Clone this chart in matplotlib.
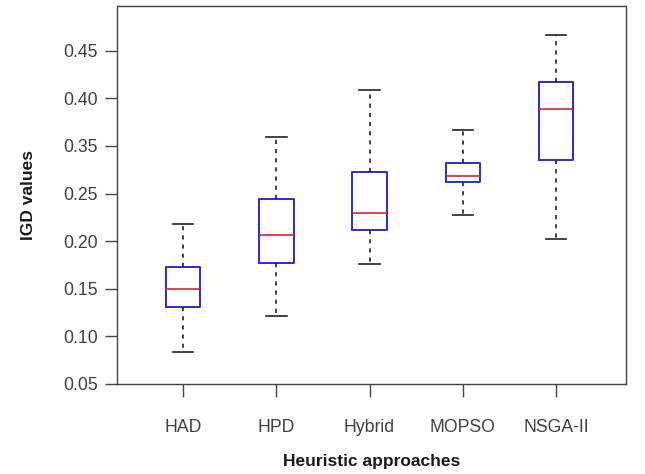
import matplotlib
matplotlib.use('Agg')
import matplotlib.pyplot as plt

plt.rcParams['font.family'] = ['Liberation Sans', 'DejaVu Sans']

# datos (cuartiles y bigotes)
metodos = ['HAD', 'HPD', 'Hybrid', 'MOPSO', 'NSGA-II']
minimos = [0.084, 0.121, 0.176, 0.227, 0.202]
q1 = [0.131, 0.177, 0.212, 0.262, 0.285]
medianas = [0.150, 0.206, 0.230, 0.268, 0.339]
q3 = [0.173, 0.244, 0.273, 0.282, 0.367]
maximos = [0.218, 0.309, 0.359, 0.317, 0.417]

# posiciones de ticks y etiquetas tal como aparecen
y_ticks = [0.05, 0.10, 0.15, 0.20, 0.25, 0.30, 0.35, 0.40]
y_etiquetas = ['0.05', '0.10', '0.15', '0.20', '0.25', '0.35', '0.40', '0.45']

stats = []
for i, m in enumerate(metodos):
    stats.append({'label': m, 'whislo': minimos[i], 'q1': q1[i], 'med': medianas[i],
                  'q3': q3[i], 'whishi': maximos[i], 'fliers': []})

fig = plt.figure(figsize=(6.45, 4.74), dpi=100)
ax = fig.add_axes([0.1814, 0.1899, 0.7891, 0.7974])

posiciones = range(1, len(metodos) + 1)
ax.bxp(stats, positions=posiciones, widths=0.37, showfliers=False,
       boxprops=dict(color='#2b2bdb', linewidth=1.4),
       medianprops=dict(color='#e0202a', linewidth=1.2),
       whiskerprops=dict(color='#222222', linewidth=1.2, linestyle=(0, (2.5, 3))),
       capprops=dict(color='#222222', linewidth=1.2), capwidths=0.22)

ax.set_xlim(0.292, 5.75)
ax.set_ylim(0.05, 0.447)
ax.set_yticks(y_ticks)
ax.set_yticklabels(y_etiquetas)
ax.set_xticks(list(posiciones))
ax.set_xticklabels(metodos)

for s in ax.spines.values():
    s.set_color('#444444')
    s.set_linewidth(1.0)

ax.tick_params(axis='y', length=9, width=1, color='#444444', labelsize=12.7,
               labelcolor='#404040', pad=5)
ax.tick_params(axis='x', length=9, width=1, color='#444444', labelsize=12.7,
               labelcolor='#404040', pad=16)

ax.set_ylabel('IGD values', fontsize=12.5, fontweight='bold', labelpad=19, color='#1a1a1a')
ax.set_xlabel('Heuristic approaches', fontsize=12.5, fontweight='bold', labelpad=13, color='#1a1a1a')

fig.savefig('out.png', dpi=100)
